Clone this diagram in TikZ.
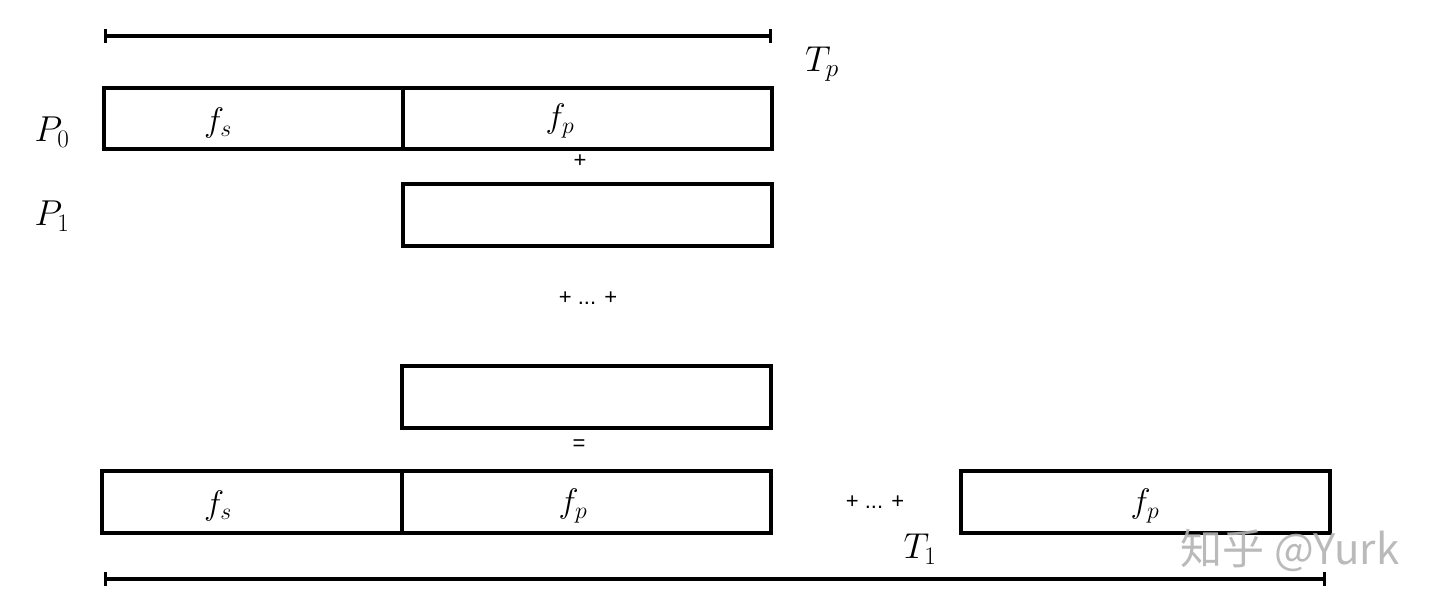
\RequirePackage{fix-cm}
\documentclass[tikz,border=0pt]{standalone}
\usepackage{fontspec}
\newfontfamily\cjk{Noto Sans CJK SC}
\newfontfamily\lsans{Liberation Sans}
\usetikzlibrary{arrows.meta}
\begin{document}
\begin{tikzpicture}[x=1pt,y=-1pt,
  blk/.style={draw,line width=4pt,inner sep=0pt,rectangle},
  span/.style={line width=3.5pt,{Bar[width=14pt,line width=3pt]}-{Bar[width=14pt,line width=3pt]}},
  big/.style={font=\fontsize{36}{42}\selectfont},
  med/.style={font=\fontsize{34}{40}\selectfont},
  small/.style={font=\lsans\fontsize{22}{26}\selectfont}]
\useasboundingbox (0,0) rectangle (1440,611);
% top span
\coordinate (tpa) at (104,36);
\coordinate (tpb) at (772,36);
\draw[span] (tpa) -- (tpb);
\node[big] (Tp) at (822,64) {$T_p$};
% P0 row
\node[blk,minimum width=299pt,minimum height=61pt] (p0s) at (253.5,118.5) {};
\node[blk,minimum width=369pt,minimum height=61pt] (p0p) at (587.5,118.5) {};
\node[med] (fs0) at (218,123) {$f_s$};
\node[med] (fp0) at (560,121) {$f_p$};
\node[big] (P0) at (52,132) {$P_0$};
\node[small] (plus1) at (580,161) {+};
% P1 row
\node[blk,minimum width=369pt,minimum height=62pt] (p1) at (587.5,215) {};
\node[big] (P1) at (52,216) {$P_1$};
\node[small] (dots1) at (588,298) {+ ... +};
% last row
\node[blk,minimum width=369pt,minimum height=62pt] (pn) at (586.5,397) {};
\node[small] (eq) at (579,445) {=};
% bottom row
\node[blk,minimum width=300pt,minimum height=62pt] (bs) at (252,502) {};
\node[blk,minimum width=369pt,minimum height=62pt] (bp) at (586.5,502) {};
\node[med] (fs1) at (218,506) {$f_s$};
\node[med] (fp1) at (573,506) {$f_p$};
\node[small] (dots2) at (875,502) {+ ... +};
\node[blk,minimum width=369pt,minimum height=62pt] (br) at (1145.5,502) {};
\node[med] (fp2) at (1145,506) {$f_p$};
\node[big] (T1) at (920,549) {$T_1$};
% bottom span
\coordinate (t1a) at (104,579);
\coordinate (t1b) at (1326,579);
\draw[span] (t1a) -- (t1b);
% watermark
\node[font=\cjk\fontsize{42}{46}\selectfont,text=black!30,opacity=0.9] (wm) at (1290,550) {知乎 @Yurk};
\end{tikzpicture}
\end{document}
